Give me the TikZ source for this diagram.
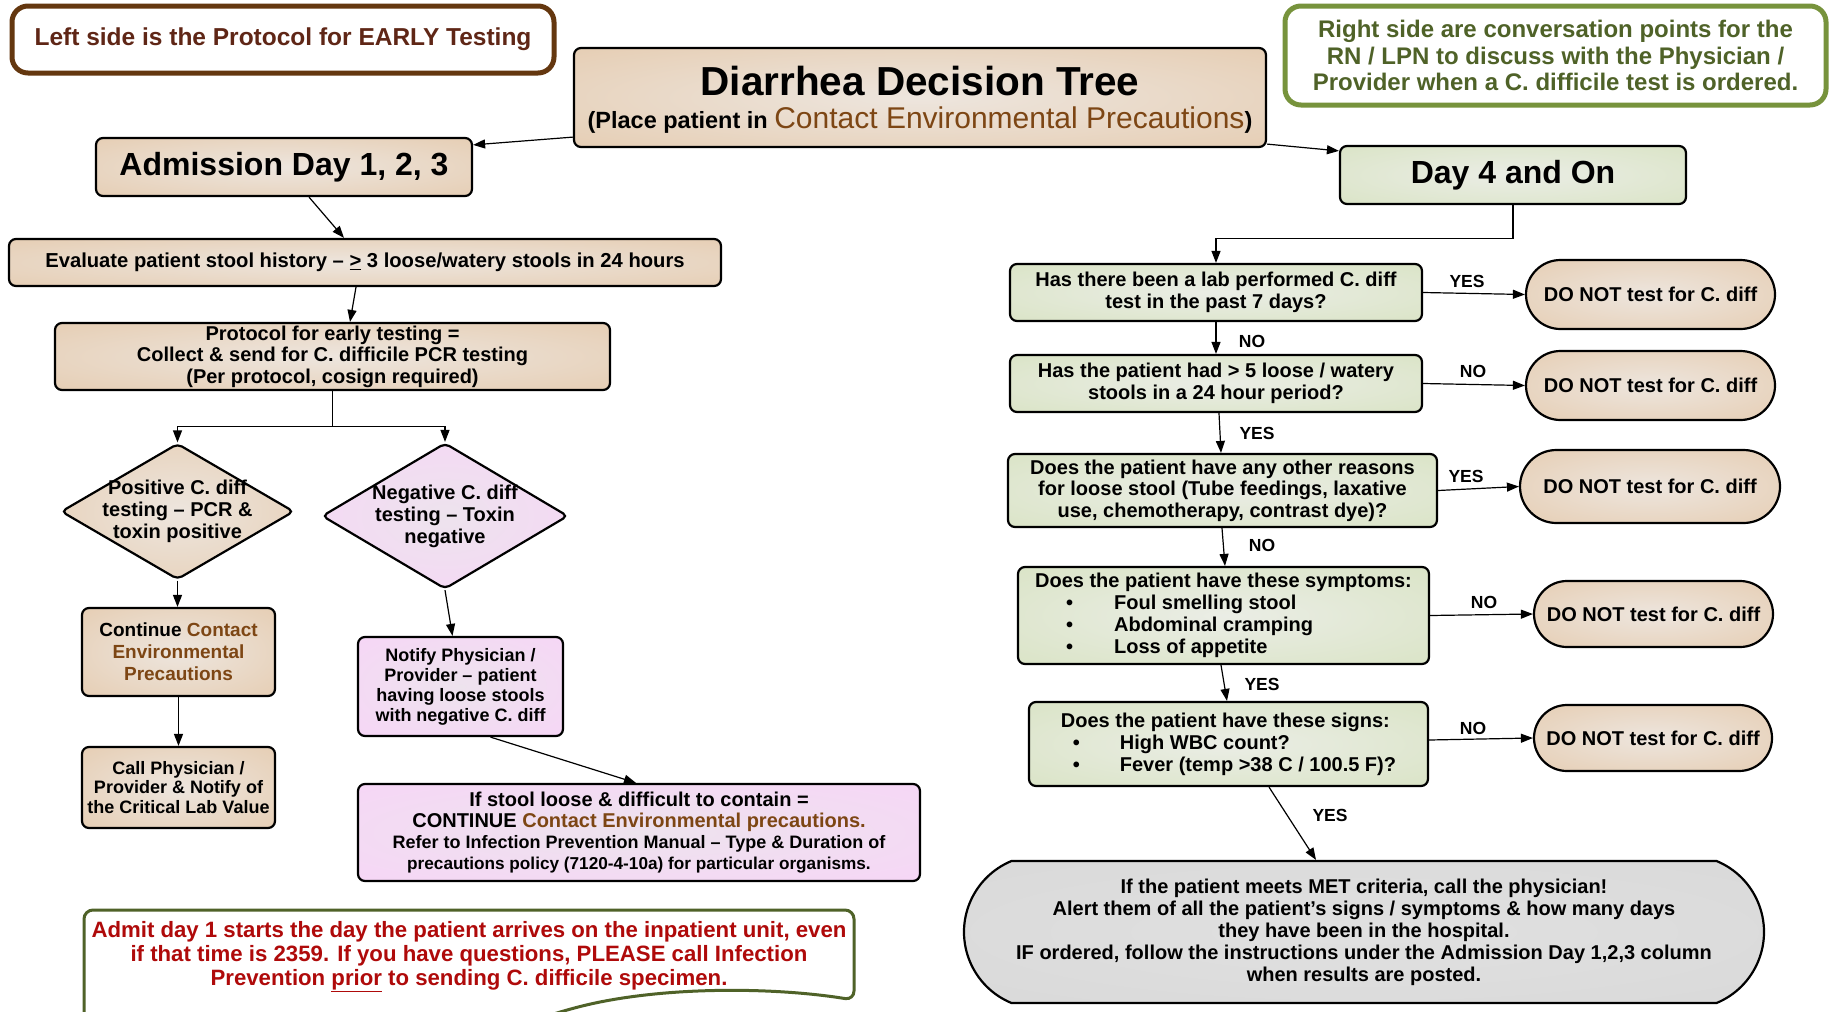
\documentclass[tikz,border=0pt]{standalone}
\usepackage{fontspec}
\setmainfont{Liberation Sans}
\usetikzlibrary{shapes.geometric,shapes.misc,arrows.meta,calc}
\definecolor{brn}{RGB}{125,70,20}
\definecolor{lnbrd}{RGB}{100,55,15}
\definecolor{lntxt}{RGB}{95,38,22}
\definecolor{rnbrd}{RGB}{119,147,60}
\definecolor{rntxt}{RGB}{79,98,40}
\definecolor{admbrd}{RGB}{79,98,40}
\definecolor{admtxt}{RGB}{175,10,10}
\pgfdeclareradialshading{tanshade}{\pgfpoint{0bp}{0bp}}{rgb(0bp)=(0.93,0.90,0.87); rgb(50bp)=(0.89,0.77,0.64)}
\pgfdeclareradialshading{grnshade}{\pgfpoint{0bp}{0bp}}{rgb(0bp)=(0.92,0.93,0.90); rgb(50bp)=(0.83,0.88,0.73)}
\pgfdeclareradialshading{pnkshade}{\pgfpoint{0bp}{0bp}}{rgb(0bp)=(0.93,0.89,0.93); rgb(50bp)=(0.98,0.82,0.98)}
\pgfdeclareradialshading{gryshade}{\pgfpoint{0bp}{0bp}}{rgb(0bp)=(0.88,0.88,0.88); rgb(50bp)=(0.84,0.84,0.84)}
\newcommand\fsz[2]{\fontsize{#1pt}{#2pt}\selectfont}
\begin{document}
\begin{tikzpicture}[x=1pt,y=-1pt,
 every node/.style={inner sep=0pt, align=center},
 bx/.style={draw=black, line width=2.2pt, rounded corners=7pt, font=\bfseries},
 tanbox/.style={bx, shading=tanshade},
 grnbox/.style={bx, shading=grnshade},
 pnkbox/.style={bx, shading=pnkshade},
 pill/.style={draw=black, line width=2.2pt, shape=rounded rectangle, shading=tanshade, font=\bfseries\fsz{20}{22}, minimum height=69pt, minimum width=249pt},
 dia/.style={draw=black, line width=2.2pt, shape=diamond, rounded corners=5pt},
 arr/.style={-{Triangle[length=12pt,width=9pt]}, line width=1.2pt},
 lbl/.style={font=\bfseries\fsz{17.5}{19}},
]
\fill[white] (0,0) rectangle (1829,1012);
\useasboundingbox (0,0) rectangle (1829,1012);

% notes
\node[draw=lnbrd, line width=5pt, rounded corners=16pt, fill=white, minimum width=542pt, minimum height=67pt, font=\bfseries\fsz{24.5}{26}\color{lntxt}] (leftnote) at (283,39.5) {Left side is the Protocol for EARLY Testing};
\node[draw=rnbrd, line width=5pt, rounded corners=16pt, fill=white, minimum width=541pt, minimum height=99pt, font=\bfseries\fsz{24}{26.5}\color{rntxt}] (rightnote) at (1555.5,55.5) {Right side are conversation points for the\\RN / LPN to discuss with the Physician /\\Provider when a C. difficile test is ordered.};

% title
\node[tanbox, minimum width=692pt, minimum height=99pt, font=\bfseries\fsz{40.5}{36}, text depth=0pt] (title) at (920,97.5) {\raisebox{-3pt}{Diarrhea Decision Tree}\\{\bfseries\fsz{23.5}{31}(Place patient in }{\mdseries\fsz{30}{31}\color{brn}Contact Environmental Precautions}{\bfseries\fsz{23.5}{31})}};

% left column
\node[tanbox, minimum width=376pt, minimum height=58pt, font=\bfseries\fsz{32}{36}] (adm) at (284,167) {Admission Day 1, 2, 3};
\node[tanbox, minimum width=712pt, minimum height=47pt, font=\bfseries\fsz{20.2}{22}] (eval) at (365,262.5) {Evaluate patient stool history – \underline{>} 3 loose/watery stools in 24 hours};
\node[tanbox, minimum width=555pt, minimum height=67pt, font=\bfseries\fsz{20}{21.6}] (proto) at (332.5,356.5) {Protocol for early testing =\\Collect \& send for C. difficile PCR testing\\(Per protocol, cosign required)};
\node[dia, shading=tanshade, minimum width=233pt, minimum height=136pt, label={[font=\bfseries\fsz{20}{22}, align=center]center:{Positive C. diff\\testing – PCR \&\\toxin positive}}] (pos) at (177.5,511.5) {};
\node[dia, shading=pnkshade, minimum width=246pt, minimum height=146pt, label={[font=\bfseries\fsz{20}{22}, align=center]center:{Negative C. diff\\testing – Toxin\\negative}}] (neg) at (445,516) {};
\node[tanbox, minimum width=193pt, minimum height=88pt, font=\bfseries\fsz{19}{22}] (cont) at (178.5,652) {Continue {\color{brn}Contact}\\{\color{brn}Environmental}\\{\color{brn}Precautions}};
\node[tanbox, minimum width=193pt, minimum height=81pt, font=\bfseries\fsz{18}{19.5}] (call) at (178.5,787.5) {Call Physician /\\Provider \& Notify of\\the Critical Lab Value};
\node[pnkbox, minimum width=205pt, minimum height=99pt, font=\bfseries\fsz{18}{20}] (notify) at (460.5,686.5) {Notify Physician /\\Provider – patient\\having loose stools\\with negative C. diff};
\node[pnkbox, minimum width=562pt, minimum height=97pt, font=\bfseries\fsz{20}{21}] (ifstool) at (639,832.5) {If stool loose \& difficult to contain =\\CONTINUE {\color{brn}Contact Environmental precautions.}\\\fsz{18}{20}Refer to Infection Prevention Manual – Type \& Duration of\\\fsz{17.2}{20}precautions policy (7120-4-10a) for particular organisms.};

% admit note
\draw[admbrd, line width=3pt] (84,1040) [rounded corners=9pt] -- (84,910) -- (854,910) -- (854,1000) [sharp corners] .. controls (780,988) and (680,986) .. (600,1002) .. controls (560,1010) and (520,1025) .. (480,1040);
\node[font=\bfseries\fsz{22.2}{24}\color{admtxt}] (admit) at (469,956.5) {Admit day 1 starts the day the patient arrives on the inpatient unit, even\\if that time is 2359. If you have questions, PLEASE call Infection\\Prevention \underline{prior} to sending C. difficile specimen.};

% right column
\node[grnbox, minimum width=346pt, minimum height=58pt, font=\bfseries\fsz{32}{36}] (day4) at (1513,175) {Day 4 and On};
\node[grnbox, minimum width=412pt, minimum height=57pt, font=\bfseries\fsz{20}{21.5}] (q1) at (1216,292.5) {Has there been a lab performed C. diff\\test in the past 7 days?};
\node[pill] (d1) at (1650.5,294.5) {DO NOT test for C. diff};
\node[grnbox, minimum width=412pt, minimum height=57pt, font=\bfseries\fsz{20}{21.5}] (q2) at (1216,383.5) {Has the patient had > 5 loose / watery\\stools in a 24 hour period?};
\node[pill] (d2) at (1650.5,385.5) {DO NOT test for C. diff};
\node[grnbox, minimum width=429pt, minimum height=73pt, font=\bfseries\fsz{20}{21.5}] (q3) at (1222.5,490.5) {Does the patient have any other reasons\\for loose stool (Tube feedings, laxative\\use, chemotherapy, contrast dye)?};
\node[pill, minimum width=260pt, minimum height=73pt] (d3) at (1650,486.5) {DO NOT test for C. diff};
\node[grnbox, minimum width=411pt, minimum height=97pt, font=\bfseries\fsz{20}{22}, align=left] (q4) at (1223.5,615.5) {Does the patient have these symptoms:\\\hspace*{31pt}\makebox[48pt][l]{•}Foul smelling stool\\\hspace*{31pt}\makebox[48pt][l]{•}Abdominal cramping\\\hspace*{31pt}\makebox[48pt][l]{•}Loss of appetite};
\node[pill, minimum width=239pt, minimum height=66pt] (d4) at (1653.5,614) {DO NOT test for C. diff};
\node[grnbox, minimum width=399pt, minimum height=84pt, font=\bfseries\fsz{20}{22}, align=left] (q5) at (1228.5,744) {Does the patient have these signs:\\\hspace*{12pt}\makebox[47pt][l]{•}High WBC count?\\\hspace*{12pt}\makebox[47pt][l]{•}Fever (temp >38 C / 100.5 F)?};
\node[pill, minimum width=238pt, minimum height=66pt] (d5) at (1653,738) {DO NOT test for C. diff};
\node[draw=black, line width=2.2pt, shape=rounded rectangle, rounded rectangle arc length=135, shading=gryshade, minimum width=800pt, minimum height=142pt, font=\bfseries\fsz{20}{22}] (final) at (1364,932) {If the patient meets MET criteria, call the physician!\\Alert them of all the patient’s signs / symptoms \& how many days\\they have been in the hospital.\\IF ordered, follow the instructions under the Admission Day 1,2,3 column\\when results are posted.};

% connectors left
\draw[arr] ([yshift=11pt]title.south west) -- ([yshift=-8pt]adm.north east);
\draw[arr] ([yshift=4pt]title.south east) -- ([yshift=-6pt]day4.north west);
\draw[arr] ([xshift=25pt]adm.south) -- ([xshift=-21pt]eval.north);
\draw[arr] ([xshift=-9pt]eval.south) -- ([xshift=17.5pt]proto.north);
\draw[arr] (proto.south) -- ++(0,35) -| (pos.north);
\draw[arr] ([yshift=-35pt]proto.south) -| (neg.north);
\draw[arr] (pos.south) -- (pos.south |- cont.north);
\draw[arr] (cont.south) -- (call.north);
\draw[arr] (neg.south) -- ([xshift=-8pt]notify.north);
\draw[arr] ([xshift=30pt]notify.south) -- ([xshift=-3pt]ifstool.north);

% connectors right
\draw[arr] (day4.south) -- ++(0,33) -| (q1.north);
\draw[arr] (q1.east) -- (d1.west);
\draw[arr] (q1.south) -- (q2.north);
\draw[arr] (q2.east) -- (d2.west);
\draw[arr] ([xshift=3pt]q2.south) -- ([xshift=-1.5pt]q3.north);
\draw[arr] (q3.east) -- (d3.west);
\draw[arr] ([xshift=-0.5pt]q3.south) -- ([xshift=1.5pt]q4.north);
\draw[arr] (q4.east) -- (d4.west);
\draw[arr] ([xshift=-2.5pt]q4.south) -- ([xshift=-1.5pt]q5.north);
\draw[arr] ([yshift=4pt]q5.east) -- (d5.west);
\draw[arr] ([xshift=40.5pt]q5.south) -- ([xshift=-48pt]final.north);

\node[lbl] (l1) at (1467,281) {YES};
\node[lbl] (l2) at (1252,341) {NO};
\node[lbl] (l3) at (1473,371) {NO};
\node[lbl] (l4) at (1257,433) {YES};
\node[lbl] (l5) at (1466,476) {YES};
\node[lbl] (l6) at (1262,545) {NO};
\node[lbl] (l7) at (1484,602) {NO};
\node[lbl] (l8) at (1262,684) {YES};
\node[lbl] (l9) at (1473,728) {NO};
\node[lbl] (l10) at (1330,815) {YES};
\end{tikzpicture}
\end{document}
